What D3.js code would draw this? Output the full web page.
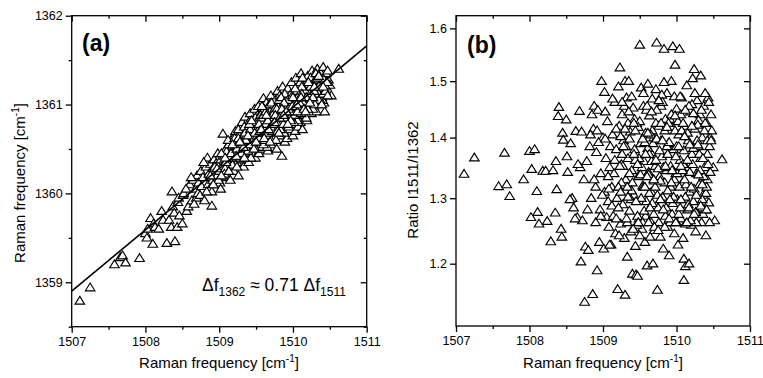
<!DOCTYPE html>
<html>
<head>
<meta charset="utf-8">
<script src="https://cdn.jsdelivr.net/npm/d3@7"></script>
<style>
  body { margin: 0; background: #fff; }
  svg { display: block; font-family: "Liberation Sans", Arial, sans-serif; }
  .axis path, .axis line { stroke: #000; stroke-width: 1.3; }
  .axis text { font-size: 12.5px; fill: #000; }
</style>
</head>
<body>
<div id="chart"></div>
<script>
// 1511 cm-1 band position (shared by both panels), one row of ten per line
const shift1511 = [
  1507.11, 1507.25, 1507.58, 1507.66, 1507.69, 1507.73, 1507.92, 1508.00, 1508.02, 1508.03,
  1508.07, 1508.10, 1508.11, 1508.13, 1508.18, 1508.22, 1508.24, 1508.29, 1508.32, 1508.35,
  1508.36, 1508.37, 1508.40, 1508.39, 1508.43, 1508.44, 1508.45, 1508.46, 1508.50, 1508.51,
  1508.52, 1508.56, 1508.58, 1508.60, 1508.63, 1508.65, 1508.68, 1508.69, 1508.70, 1508.71,
  1508.72, 1508.74, 1508.75, 1508.76, 1508.78, 1508.80, 1508.82, 1508.84, 1508.85, 1508.86,
  1508.87, 1508.88, 1508.90, 1508.91, 1508.92, 1508.93, 1508.95, 1508.96, 1508.97, 1508.98,
  1509.00, 1509.01, 1509.02, 1509.04, 1509.05, 1509.06, 1509.07, 1509.08, 1509.09, 1509.10,
  1509.11, 1509.12, 1509.13, 1509.14, 1509.15, 1509.16, 1509.17, 1509.18, 1509.19, 1509.20,
  1509.21, 1509.22, 1509.23, 1509.24, 1509.25, 1509.26, 1509.27, 1509.28, 1509.29, 1509.30,
  1509.30, 1509.31, 1509.32, 1509.33, 1509.34, 1509.35, 1509.36, 1509.37, 1509.38, 1509.39,
  1509.40, 1509.41, 1509.42, 1509.43, 1509.44, 1509.45, 1509.46, 1509.47, 1509.48, 1509.49,
  1509.50, 1509.51, 1509.52, 1509.53, 1509.54, 1509.55, 1509.56, 1509.57, 1509.58, 1509.59,
  1509.60, 1509.61, 1509.62, 1509.63, 1509.64, 1509.65, 1509.66, 1509.67, 1509.68, 1509.69,
  1509.70, 1509.71, 1509.72, 1509.73, 1509.74, 1509.75, 1509.76, 1509.77, 1509.78, 1509.79,
  1509.80, 1509.81, 1509.82, 1509.83, 1509.84, 1509.85, 1509.86, 1509.87, 1509.88, 1509.89,
  1509.90, 1509.91, 1509.92, 1509.93, 1509.94, 1509.95, 1509.96, 1509.97, 1509.98, 1509.99,
  1510.00, 1510.01, 1510.02, 1510.03, 1510.04, 1510.05, 1510.06, 1510.07, 1510.08, 1510.09,
  1510.10, 1510.10, 1510.11, 1510.12, 1510.13, 1510.14, 1510.15, 1510.16, 1510.17, 1510.18,
  1510.19, 1510.20, 1510.21, 1510.22, 1510.23, 1510.24, 1510.25, 1510.26, 1510.27, 1510.28,
  1510.29, 1510.30, 1510.31, 1510.32, 1510.33, 1510.34, 1510.35, 1510.36, 1510.37, 1510.38,
  1510.39, 1510.40, 1510.41, 1510.42, 1510.43, 1510.44, 1510.45, 1510.46, 1510.48, 1510.50,
  1510.52, 1510.62, 1508.90, 1508.94, 1508.99, 1509.03, 1509.07, 1509.12, 1509.18, 1509.22,
  1509.26, 1509.29, 1509.33, 1509.36, 1509.40, 1509.43, 1509.46, 1509.49, 1509.52, 1509.55,
  1509.58, 1509.61, 1509.64, 1509.67, 1509.70, 1509.73, 1509.76, 1509.79, 1509.82, 1509.85,
  1509.88, 1509.91, 1509.94, 1509.97, 1510.00, 1510.03, 1510.06, 1510.09, 1510.12, 1510.15,
  1510.18, 1510.21, 1510.24, 1510.27, 1510.30, 1510.33, 1510.36, 1510.39, 1510.42, 1510.45,
  1509.25, 1509.31, 1509.38, 1509.44, 1509.50, 1509.56, 1509.62, 1509.68, 1509.74, 1509.80,
  1509.86, 1509.92, 1509.98, 1510.04, 1510.10, 1510.16, 1510.22, 1510.28, 1510.34, 1510.40,
  1508.55, 1508.62, 1508.66, 1508.79, 1508.83, 1508.88, 1509.02, 1509.09, 1509.16, 1509.21,
  1509.34, 1509.47, 1509.53, 1509.59, 1509.65, 1509.71, 1509.77, 1509.83, 1509.89, 1509.95,
  1510.01, 1510.07, 1510.13, 1510.19, 1510.25, 1510.31, 1510.37, 1510.43, 1510.47, 1510.35,
  1509.21, 1509.24, 1509.27, 1509.32, 1509.35, 1509.39, 1509.42, 1509.45, 1509.48, 1509.51,
  1509.54, 1509.57, 1509.60, 1509.63, 1509.66, 1509.69, 1509.72, 1509.75, 1509.78, 1509.81,
  1509.84, 1509.87, 1509.90, 1509.93, 1509.96, 1509.99, 1510.02, 1510.05, 1510.08, 1510.11,
  1510.14, 1510.17, 1510.20, 1510.23, 1510.26, 1510.29, 1510.32, 1510.35, 1510.38, 1510.41,
  1510.44, 1510.12, 1510.06, 1509.98, 1509.90, 1509.84, 1509.78, 1509.72, 1509.66, 1509.60,
  1509.54, 1509.48, 1509.42, 1509.36, 1509.30, 1509.24, 1509.62, 1509.70, 1509.76, 1509.82,
  1509.88, 1509.94, 1510.00, 1510.06, 1510.12, 1510.18, 1510.24, 1510.30, 1510.36, 1510.42,
  1509.26, 1509.33, 1509.41, 1509.47, 1509.55, 1509.61, 1509.67, 1509.73, 1509.79, 1509.85,
  1509.91, 1509.97, 1510.03, 1510.09, 1510.15, 1510.21, 1510.27, 1510.33, 1510.39, 1510.46,
  1508.92, 1508.97, 1509.03, 1509.08, 1509.13, 1509.18, 1509.23, 1509.28, 1509.34, 1509.39,
  1509.44, 1509.50, 1509.57, 1509.63, 1509.69, 1509.75, 1509.81, 1509.87, 1509.93, 1509.99,
  1510.05, 1510.11, 1510.17, 1510.23, 1510.29, 1510.35, 1510.41, 1510.47, 1509.58, 1509.64
];

// 1362 cm-1 band position, panel (a)
const shift1362 = [
  1358.79, 1358.94, 1359.20, 1359.28, 1359.30, 1359.22, 1359.27, 1359.55, 1359.50, 1359.60,
  1359.72, 1359.43, 1359.66, 1359.62, 1359.60, 1359.80, 1359.70, 1359.44, 1359.70, 1359.62,
  1360.02, 1359.85, 1359.46, 1359.78, 1359.62, 1359.90, 1359.95, 1359.75, 1359.66, 1359.98,
  1360.00, 1359.80, 1359.85, 1360.10, 1359.92, 1360.15, 1360.05, 1359.95, 1360.20, 1360.00,
  1360.12, 1359.98, 1360.25, 1360.08, 1360.18, 1359.92, 1360.30, 1360.40, 1360.10, 1360.22,
  1360.05, 1360.33, 1359.86, 1360.15, 1360.28, 1360.38, 1360.10, 1360.34, 1360.20, 1360.45,
  1360.25, 1360.12, 1360.38, 1360.30, 1360.67, 1360.18, 1360.42, 1360.28, 1360.50, 1360.47,
  1360.20, 1360.35, 1360.55, 1360.40, 1360.15, 1360.60, 1360.30, 1360.48, 1360.62, 1360.25,
  1360.40, 1360.70, 1360.52, 1360.35, 1360.58, 1360.20, 1360.66, 1360.45, 1360.75, 1360.38,
  1360.55, 1360.80, 1360.62, 1360.30, 1360.50, 1360.86, 1360.70, 1360.42, 1360.58, 1360.78,
  1360.35, 1360.65, 1360.90, 1360.52, 1360.72, 1360.45, 1360.82, 1360.60, 1360.95, 1360.40,
  1360.75, 1360.55, 1360.88, 1360.68, 1360.45, 1361.00, 1360.78, 1360.60, 1360.92, 1360.50,
  1361.07, 1360.70, 1360.85, 1360.58, 1361.02, 1360.75, 1360.48, 1360.95, 1360.65, 1360.88,
  1361.10, 1360.55, 1360.80, 1360.98, 1360.70, 1360.62, 1361.05, 1360.85, 1360.50, 1361.15,
  1360.75, 1360.92, 1360.65, 1361.00, 1360.82, 1360.42, 1361.20, 1360.70, 1360.95, 1360.58,
  1361.08, 1360.80, 1360.62, 1361.18, 1360.88, 1360.72, 1361.05, 1360.90, 1361.25, 1360.78,
  1360.65, 1361.12, 1360.95, 1360.70, 1361.30, 1360.85, 1361.02, 1360.75, 1361.22, 1360.92,
  1361.10, 1360.80, 1361.35, 1360.98, 1360.72, 1361.18, 1361.05, 1360.88, 1361.28, 1361.00,
  1360.82, 1361.32, 1361.12, 1360.95, 1361.25, 1361.08, 1360.90, 1361.38, 1361.15, 1360.98,
  1361.30, 1361.05, 1361.22, 1360.92, 1361.40, 1361.10, 1361.28, 1361.00, 1361.18, 1361.35,
  1361.08, 1361.25, 1361.42, 1361.15, 1360.92, 1361.30, 1361.20, 1361.12, 1361.28, 1361.22,
  1361.10, 1361.40, 1360.02, 1360.30, 1360.15, 1360.45, 1360.22, 1360.60, 1360.32, 1360.48,
  1360.72, 1360.40, 1360.65, 1360.52, 1360.80, 1360.40, 1360.62, 1360.85, 1360.70, 1360.52,
  1360.78, 1360.95, 1360.65, 1360.82, 1360.60, 1360.90, 1360.72, 1360.95, 1361.10, 1360.80,
  1360.68, 1361.00, 1360.75, 1361.12, 1360.90, 1361.05, 1360.82, 1361.15, 1360.90, 1361.22,
  1360.85, 1361.02, 1361.30, 1360.95, 1361.15, 1361.02, 1361.32, 1361.18, 1361.02, 1361.35,
  1360.42, 1360.58, 1360.48, 1360.58, 1360.65, 1360.88, 1360.72, 1361.00, 1360.85, 1360.98,
  1360.92, 1360.88, 1361.02, 1360.98, 1361.25, 1361.10, 1361.18, 1361.25, 1361.20, 1361.05,
  1360.05, 1360.18, 1359.88, 1360.35, 1360.02, 1360.20, 1360.05, 1360.35, 1360.45, 1360.62,
  1360.75, 1360.78, 1360.98, 1360.82, 1360.52, 1361.02, 1360.60, 1360.72, 1361.12, 1360.98,
  1360.80, 1361.08, 1361.30, 1361.20, 1361.12, 1361.35, 1361.05, 1361.22, 1361.38, 1361.12,
  1360.55, 1360.30, 1360.58, 1360.45, 1360.68, 1360.48, 1360.72, 1360.60, 1360.52, 1360.80,
  1360.62, 1360.85, 1360.55, 1360.78, 1360.68, 1360.92, 1360.70, 1360.95, 1360.80, 1361.05,
  1360.90, 1360.78, 1360.95, 1361.05, 1360.85, 1361.10, 1360.88, 1361.15, 1360.98, 1360.90,
  1361.02, 1361.15, 1360.95, 1361.12, 1361.02, 1361.15, 1361.28, 1361.05, 1361.22, 1361.12,
  1361.15, 1361.20, 1361.08, 1360.92, 1360.85, 1361.08, 1360.95, 1360.88, 1360.82, 1360.88,
  1360.78, 1360.68, 1360.55, 1360.60, 1360.45, 1360.50, 1360.60, 1360.75, 1360.88, 1360.85,
  1361.02, 1360.95, 1361.08, 1360.92, 1361.12, 1361.08, 1361.20, 1361.00, 1361.22, 1361.28,
  1360.62, 1360.52, 1360.78, 1360.50, 1360.70, 1360.62, 1360.72, 1360.78, 1360.70, 1360.95,
  1360.92, 1360.82, 1361.18, 1361.02, 1360.95, 1361.25, 1361.08, 1361.30, 1361.00, 1361.25,
  1360.10, 1360.28, 1360.20, 1360.40, 1360.25, 1360.55, 1360.42, 1360.58, 1360.40, 1360.65,
  1360.82, 1360.58, 1360.72, 1360.92, 1360.58, 1360.80, 1360.68, 1360.88, 1360.78, 1360.98,
  1361.00, 1361.08, 1360.92, 1361.02, 1361.20, 1361.32, 1361.20, 1361.10, 1360.98, 1360.88
];

// intensity ratio I1511/I1362, panel (b)
const ratio = [
  1.339, 1.366, 1.319, 1.374, 1.322, 1.303, 1.330, 1.377, 1.270, 1.347,
  1.380, 1.311, 1.278, 1.260, 1.344, 1.344, 1.264, 1.233, 1.345, 1.277,
  1.360, 1.314, 1.453, 1.437, 1.252, 1.240, 1.408, 1.396, 1.431, 1.368,
  1.342, 1.390, 1.300, 1.285, 1.411, 1.270, 1.446, 1.350, 1.203, 1.410,
  1.265, 1.330, 1.145, 1.225, 1.360, 1.220, 1.385, 1.300, 1.440, 1.156,
  1.415, 1.455, 1.318, 1.375, 1.190, 1.448, 1.232, 1.282, 1.340, 1.500,
  1.400, 1.222, 1.310, 1.365, 1.270, 1.428, 1.295, 1.255, 1.350, 1.385,
  1.228, 1.318, 1.405, 1.272, 1.340, 1.462, 1.245, 1.380, 1.300, 1.163,
  1.490, 1.420, 1.525, 1.260, 1.355, 1.440, 1.290, 1.395, 1.238, 1.155,
  1.500, 1.330, 1.470, 1.210, 1.365, 1.500, 1.280, 1.410, 1.248, 1.345,
  1.185, 1.452, 1.305, 1.380, 1.226, 1.184, 1.425, 1.182, 1.335, 1.268,
  1.568, 1.390, 1.488, 1.252, 1.320, 1.455, 1.360, 1.232, 1.408, 1.295,
  1.197, 1.495, 1.342, 1.438, 1.265, 1.375, 1.310, 1.468, 1.200, 1.400,
  1.250, 1.352, 1.485, 1.572, 1.162, 1.285, 1.420, 1.335, 1.240, 1.455,
  1.368, 1.302, 1.222, 1.560, 1.412, 1.272, 1.345, 1.478, 1.255, 1.390,
  1.212, 1.432, 1.318, 1.500, 1.275, 1.565, 1.380, 1.245, 1.530, 1.340,
  1.450, 1.298, 1.228, 1.405, 1.560, 1.362, 1.268, 1.470, 1.325, 1.238,
  1.176, 1.207, 1.420, 1.196, 1.350, 1.492, 1.282, 1.395, 1.200, 1.310,
  1.445, 1.258, 1.372, 1.505, 1.295, 1.522, 1.415, 1.248, 1.340, 1.465,
  1.275, 1.385, 1.322, 1.440, 1.510, 1.262, 1.400, 1.305, 1.455, 1.350,
  1.282, 1.242, 1.425, 1.372, 1.470, 1.293, 1.385, 1.400, 1.412, 1.350,
  1.265, 1.363, 1.262, 1.392, 1.305, 1.445, 1.335, 1.288, 1.415, 1.242,
  1.372, 1.455, 1.262, 1.398, 1.325, 1.432, 1.258, 1.365, 1.300, 1.478,
  1.272, 1.382, 1.240, 1.412, 1.328, 1.448, 1.262, 1.395, 1.350, 1.432,
  1.312, 1.262, 1.418, 1.330, 1.385, 1.275, 1.440, 1.355, 1.260, 1.408,
  1.342, 1.458, 1.315, 1.262, 1.430, 1.365, 1.275, 1.478, 1.330, 1.262,
  1.325, 1.385, 1.298, 1.362, 1.428, 1.280, 1.338, 1.390, 1.305, 1.475,
  1.285, 1.352, 1.412, 1.318, 1.378, 1.290, 1.355, 1.395, 1.448, 1.308,
  1.298, 1.268, 1.355, 1.282, 1.405, 1.330, 1.480, 1.228, 1.362, 1.318,
  1.425, 1.272, 1.350, 1.448, 1.405, 1.318, 1.378, 1.498, 1.425, 1.292,
  1.340, 1.412, 1.322, 1.265, 1.478, 1.372, 1.335, 1.355, 1.440, 1.285,
  1.285, 1.402, 1.352, 1.268, 1.445, 1.312, 1.372, 1.295, 1.418, 1.338,
  1.262, 1.392, 1.455, 1.308, 1.360, 1.275, 1.425, 1.348, 1.298, 1.462,
  1.325, 1.385, 1.268, 1.440, 1.302, 1.368, 1.428, 1.285, 1.345, 1.402,
  1.262, 1.455, 1.318, 1.382, 1.278, 1.422, 1.345, 1.298, 1.412, 1.318,
  1.462, 1.302, 1.352, 1.438, 1.392, 1.255, 1.328, 1.362, 1.445, 1.335,
  1.398, 1.262, 1.425, 1.340, 1.415, 1.310, 1.262, 1.255, 1.465, 1.282,
  1.372, 1.345, 1.262, 1.298, 1.448, 1.388, 1.275, 1.338, 1.365, 1.395,
  1.462, 1.318, 1.252, 1.355, 1.318, 1.408, 1.292, 1.398, 1.425, 1.352,
  1.298, 1.472, 1.385, 1.425, 1.362, 1.420, 1.305, 1.288, 1.425, 1.342,
  1.412, 1.272, 1.398, 1.315, 1.468, 1.268, 1.352, 1.385, 1.302, 1.472,
  1.412, 1.242, 1.318, 1.372, 1.330, 1.250, 1.395, 1.418, 1.325, 1.262,
  1.472, 1.330, 1.285, 1.442, 1.388, 1.322, 1.282, 1.395, 1.372, 1.285
];

// linear fit drawn in panel (a): end points in data units
const fitLine = [[1507, 1358.9], [1511, 1361.66]];

const xTicks = [1507, 1508, 1509, 1510, 1511];
const xMinor = [1507.5, 1508.5, 1509.5, 1510.5];
const aTicks = [1359, 1360, 1361, 1362];
const aMinor = [1358.5, 1359.5, 1360.5, 1361.5];
const bTicks = [1.2, 1.3, 1.4, 1.5, 1.6];

const W = 763, H = 378;
const svg = d3.select("#chart").append("svg")
  .attr("width", W).attr("height", H);

// open triangle marker
const tri = "M0,-4.6L4.8,3.2L-4.8,3.2Z";

function frame(g, x, y, yTicks, yMinor, yFmt) {
  const [x0, x1] = x.range();
  const [y0, y1] = y.range();
  const w = x1 - x0, h = y0 - y1;

  // bottom: outward ticks with labels
  g.append("g").attr("class", "axis").attr("transform", `translate(0,${y0})`)
    .call(d3.axisBottom(x).tickValues(xTicks).tickFormat(d3.format("d")).tickSizeInner(6).tickSizeOuter(0).tickPadding(4));
  g.append("g").attr("class", "axis").attr("transform", `translate(0,${y0})`)
    .call(d3.axisBottom(x).tickValues(xMinor).tickFormat("").tickSizeInner(3).tickSizeOuter(0));
  // top: inward ticks
  g.append("g").attr("class", "axis").attr("transform", `translate(0,${y1})`)
    .call(d3.axisTop(x).tickValues(xTicks).tickFormat("").tickSizeInner(-6).tickSizeOuter(0));
  g.append("g").attr("class", "axis").attr("transform", `translate(0,${y1})`)
    .call(d3.axisTop(x).tickValues(xMinor).tickFormat("").tickSizeInner(-3).tickSizeOuter(0));
  // left: outward ticks with labels
  g.append("g").attr("class", "axis").attr("transform", `translate(${x0},0)`)
    .call(d3.axisLeft(y).tickValues(yTicks).tickFormat(yFmt).tickSizeInner(6).tickSizeOuter(0).tickPadding(3));
  // right: inward ticks
  g.append("g").attr("class", "axis").attr("transform", `translate(${x1},0)`)
    .call(d3.axisRight(y).tickValues(yTicks).tickFormat("").tickSizeInner(-6).tickSizeOuter(0));
  if (yMinor) {
    g.append("g").attr("class", "axis").attr("transform", `translate(${x0},0)`)
      .call(d3.axisLeft(y).tickValues(yMinor).tickFormat("").tickSizeInner(3).tickSizeOuter(0));
    g.append("g").attr("class", "axis").attr("transform", `translate(${x1},0)`)
      .call(d3.axisRight(y).tickValues(yMinor).tickFormat("").tickSizeInner(-3).tickSizeOuter(0));
  }
  g.selectAll(".axis path.domain").remove();

  g.append("rect")
    .attr("x", x0).attr("y", y1).attr("width", w).attr("height", h)
    .attr("fill", "none").attr("stroke", "#000").attr("stroke-width", 1.3);
}

function xTitle(g, cx, yb) {
  const t = g.append("text").attr("x", cx).attr("y", yb)
    .attr("text-anchor", "middle").attr("font-size", 15);
  t.append("tspan").text("Raman frequency [cm");
  t.append("tspan").attr("font-size", 10).attr("dy", -6).text("-1");
  t.append("tspan").attr("dy", 6).text("]");
}

// ---------- panel (a) ----------
const xa = d3.scaleLinear().domain([1507, 1511]).range([71.7, 366.7]);
const ya = d3.scaleLinear().domain([1358.5, 1362]).range([326.7, 15.7]);
const ga = svg.append("g");

const pointsA = shift1511.map((v, i) => [v, shift1362[i]]);
ga.append("g").selectAll("path").data(pointsA).join("path")
  .attr("d", tri)
  .attr("transform", d => `translate(${xa(d[0])},${ya(d[1])})`)
  .attr("fill", "#fff").attr("stroke", "#000").attr("stroke-width", 1.15);

ga.append("path").datum(fitLine)
  .attr("d", d3.line().x(d => xa(d[0])).y(d => ya(d[1])))
  .attr("fill", "none").attr("stroke", "#000").attr("stroke-width", 1.6);

frame(ga, xa, ya, aTicks, aMinor, d3.format("d"));
xTitle(ga, 219, 368);

const yla = ga.append("text")
  .attr("transform", "translate(25,183) rotate(-90)")
  .attr("text-anchor", "middle").attr("font-size", 15);
yla.append("tspan").text("Raman frequency [cm");
yla.append("tspan").attr("font-size", 10).attr("dy", -6).text("-1");
yla.append("tspan").attr("dy", 6).text("]");

ga.append("text").attr("x", 82).attr("y", 51)
  .attr("font-size", 23).attr("font-weight", "bold").text("(a)");

const eq = ga.append("text").attr("x", 202).attr("y", 291).attr("font-size", 17.5);
eq.append("tspan").text("Δf");
eq.append("tspan").attr("font-size", 12).attr("dy", 5).text("1362");
eq.append("tspan").attr("dy", -5).text(" ≈ 0.71 Δf");
eq.append("tspan").attr("font-size", 12).attr("dy", 5).text("1511");

// ---------- panel (b) ----------
const xb = d3.scaleLinear().domain([1507, 1511]).range([456, 750]);
const yb = d3.scaleLog().domain([1.112, 1.625]).range([326, 15.7]);
const gb = svg.append("g");

const pointsB = shift1511.map((v, i) => [v, ratio[i]]);
gb.append("g").selectAll("path").data(pointsB).join("path")
  .attr("d", tri)
  .attr("transform", d => `translate(${xb(d[0])},${yb(d[1])})`)
  .attr("fill", "#fff").attr("stroke", "#000").attr("stroke-width", 1.15);

frame(gb, xb, yb, bTicks, null, d3.format(".1f"));
xTitle(gb, 603, 368);

gb.append("text")
  .attr("transform", "translate(418,180) rotate(-90)")
  .attr("text-anchor", "middle").attr("font-size", 15)
  .text("Ratio I1511/I1362");

gb.append("text").attr("x", 467).attr("y", 53)
  .attr("font-size", 23).attr("font-weight", "bold").text("(b)");
</script>
</body>
</html>
